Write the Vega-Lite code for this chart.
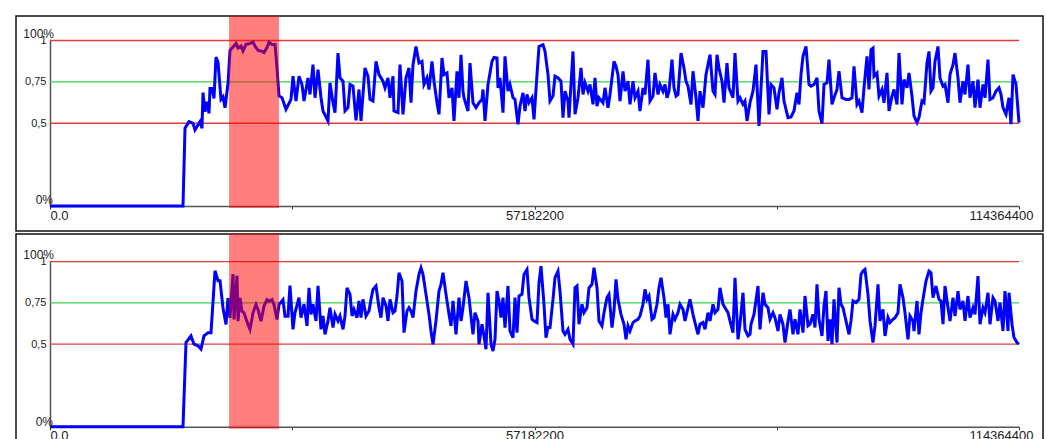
{
"$schema":"https://vega.github.io/schema/vega-lite/v6.json",
"padding":{"left":15,"top":15,"right":5,"bottom":0},
"spacing":0,
"background":"white",
"config":{"view":{"stroke":"#111","strokeWidth":1.5},"font":"Liberation Sans"},
"datasets":{
"a":[{"x":0,"v":0},{"x":15697000,"v":0},{"x":15933000,"v":0.47},{"x":16405000,"v":0.51},{"x":16877000,"v":0.5},{"x":17113000,"v":0.46},{"x":17467000,"v":0.49},{"x":17703000,"v":0.51},{"x":17939000,"v":0.47},{"x":18057000,"v":0.685},{"x":18293000,"v":0.57},{"x":18529000,"v":0.63},{"x":18765000,"v":0.56},{"x":18884000,"v":0.71},{"x":19120000,"v":0.71},{"x":19356000,"v":0.65},{"x":19592000,"v":0.9},{"x":19828000,"v":0.87},{"x":20182000,"v":0.645},{"x":20418000,"v":0.66},{"x":20654000,"v":0.594},{"x":21008000,"v":0.74},{"x":21244000,"v":0.94},{"x":21598000,"v":0.96},{"x":21952000,"v":0.983},{"x":22188000,"v":0.955},{"x":22542000,"v":0.967},{"x":22778000,"v":0.937},{"x":23132000,"v":0.977},{"x":23486000,"v":0.98},{"x":23958000,"v":0.99},{"x":24195000,"v":0.967},{"x":24549000,"v":0.94},{"x":24903000,"v":0.937},{"x":25257000,"v":0.927},{"x":25611000,"v":0.957},{"x":25847000,"v":0.99},{"x":26201000,"v":0.976},{"x":26555000,"v":0.976},{"x":26791000,"v":0.835},{"x":27027000,"v":0.665},{"x":27381000,"v":0.654},{"x":27853000,"v":0.584},{"x":28443000,"v":0.644},{"x":28679000,"v":0.784},{"x":29033000,"v":0.634},{"x":29387000,"v":0.784},{"x":29742000,"v":0.734},{"x":29978000,"v":0.634},{"x":30450000,"v":0.774},{"x":30686000,"v":0.674},{"x":31040000,"v":0.854},{"x":31276000,"v":0.654},{"x":31630000,"v":0.824},{"x":31984000,"v":0.654},{"x":32220000,"v":0.574},{"x":32810000,"v":0.514},{"x":33046000,"v":0.744},{"x":33400000,"v":0.624},{"x":33636000,"v":0.564},{"x":33990000,"v":0.924},{"x":34226000,"v":0.774},{"x":34580000,"v":0.754},{"x":34816000,"v":0.574},{"x":35171000,"v":0.594},{"x":35407000,"v":0.734},{"x":35761000,"v":0.724},{"x":36115000,"v":0.518},{"x":36469000,"v":0.704},{"x":36705000,"v":0.514},{"x":37177000,"v":0.834},{"x":37531000,"v":0.784},{"x":37767000,"v":0.644},{"x":38121000,"v":0.634},{"x":38475000,"v":0.874},{"x":38829000,"v":0.794},{"x":39301000,"v":0.754},{"x":39537000,"v":0.714},{"x":39891000,"v":0.774},{"x":40127000,"v":0.654},{"x":40482000,"v":0.784},{"x":40600000,"v":0.574},{"x":41072000,"v":0.564},{"x":41308000,"v":0.854},{"x":41662000,"v":0.554},{"x":42016000,"v":0.774},{"x":42370000,"v":0.834},{"x":42606000,"v":0.624},{"x":42842000,"v":0.854},{"x":43196000,"v":0.964},{"x":43550000,"v":0.864},{"x":43904000,"v":0.874},{"x":44140000,"v":0.734},{"x":44494000,"v":0.774},{"x":44730000,"v":0.704},{"x":45084000,"v":0.874},{"x":45320000,"v":0.754},{"x":45675000,"v":0.624},{"x":45911000,"v":0.554},{"x":46265000,"v":0.894},{"x":46501000,"v":0.794},{"x":46855000,"v":0.804},{"x":47091000,"v":0.654},{"x":47445000,"v":0.714},{"x":47681000,"v":0.514},{"x":48035000,"v":0.814},{"x":48271000,"v":0.654},{"x":48507000,"v":0.914},{"x":48743000,"v":0.694},{"x":48861000,"v":0.654},{"x":49333000,"v":0.574},{"x":49569000,"v":0.864},{"x":49923000,"v":0.624},{"x":50277000,"v":0.594},{"x":50631000,"v":0.624},{"x":50986000,"v":0.644},{"x":51104000,"v":0.704},{"x":51340000,"v":0.514},{"x":51694000,"v":0.734},{"x":52166000,"v":0.874},{"x":52402000,"v":0.898},{"x":52756000,"v":0.894},{"x":52874000,"v":0.714},{"x":53110000,"v":0.774},{"x":53464000,"v":0.564},{"x":53700000,"v":0.904},{"x":54054000,"v":0.694},{"x":54290000,"v":0.734},{"x":54644000,"v":0.654},{"x":54880000,"v":0.644},{"x":55234000,"v":0.494},{"x":55470000,"v":0.604},{"x":55824000,"v":0.684},{"x":56060000,"v":0.574},{"x":56296000,"v":0.674},{"x":56533000,"v":0.624},{"x":56887000,"v":0.654},{"x":57123000,"v":0.524},{"x":57477000,"v":0.794},{"x":57713000,"v":0.964},{"x":58185000,"v":0.974},{"x":58421000,"v":0.934},{"x":58775000,"v":0.794},{"x":59011000,"v":0.634},{"x":59365000,"v":0.664},{"x":59601000,"v":0.784},{"x":59955000,"v":0.774},{"x":60309000,"v":0.754},{"x":60545000,"v":0.534},{"x":60781000,"v":0.694},{"x":61135000,"v":0.634},{"x":61253000,"v":0.534},{"x":61726000,"v":0.934},{"x":61962000,"v":0.554},{"x":62316000,"v":0.654},{"x":62670000,"v":0.834},{"x":62906000,"v":0.674},{"x":63142000,"v":0.744},{"x":63496000,"v":0.694},{"x":63732000,"v":0.734},{"x":64086000,"v":0.614},{"x":64322000,"v":0.774},{"x":64558000,"v":0.604},{"x":64794000,"v":0.654},{"x":65266000,"v":0.624},{"x":65502000,"v":0.714},{"x":65856000,"v":0.594},{"x":66092000,"v":0.674},{"x":66564000,"v":0.874},{"x":66800000,"v":0.844},{"x":67036000,"v":0.794},{"x":67273000,"v":0.634},{"x":67627000,"v":0.814},{"x":67863000,"v":0.694},{"x":68217000,"v":0.754},{"x":68453000,"v":0.614},{"x":68807000,"v":0.754},{"x":69043000,"v":0.654},{"x":69397000,"v":0.694},{"x":69633000,"v":0.574},{"x":69987000,"v":0.714},{"x":70223000,"v":0.674},{"x":70577000,"v":0.884},{"x":70813000,"v":0.634},{"x":71167000,"v":0.664},{"x":71403000,"v":0.804},{"x":71757000,"v":0.674},{"x":71993000,"v":0.734},{"x":72347000,"v":0.694},{"x":72584000,"v":0.734},{"x":72820000,"v":0.654},{"x":73056000,"v":0.694},{"x":73410000,"v":0.884},{"x":73646000,"v":0.714},{"x":73882000,"v":0.664},{"x":74118000,"v":0.674},{"x":74472000,"v":0.924},{"x":74826000,"v":0.834},{"x":75062000,"v":0.754},{"x":75298000,"v":0.724},{"x":75652000,"v":0.614},{"x":75888000,"v":0.814},{"x":76242000,"v":0.654},{"x":76478000,"v":0.514},{"x":76714000,"v":0.694},{"x":77068000,"v":0.594},{"x":77422000,"v":0.794},{"x":77658000,"v":0.854},{"x":77895000,"v":0.914},{"x":78249000,"v":0.694},{"x":78485000,"v":0.674},{"x":78721000,"v":0.914},{"x":78957000,"v":0.834},{"x":79311000,"v":0.754},{"x":79547000,"v":0.624},{"x":79901000,"v":0.864},{"x":80137000,"v":0.714},{"x":80609000,"v":0.654},{"x":80845000,"v":0.924},{"x":81199000,"v":0.634},{"x":81435000,"v":0.654},{"x":81789000,"v":0.614},{"x":82025000,"v":0.634},{"x":82261000,"v":0.514},{"x":82615000,"v":0.624},{"x":82969000,"v":0.694},{"x":83324000,"v":0.854},{"x":83678000,"v":0.484},{"x":84150000,"v":0.934},{"x":84504000,"v":0.934},{"x":84858000,"v":0.554},{"x":85094000,"v":0.734},{"x":85448000,"v":0.714},{"x":85802000,"v":0.584},{"x":86038000,"v":0.684},{"x":86392000,"v":0.774},{"x":86628000,"v":0.634},{"x":87100000,"v":0.534},{"x":87454000,"v":0.538},{"x":87808000,"v":0.574},{"x":88162000,"v":0.684},{"x":88398000,"v":0.614},{"x":88635000,"v":0.794},{"x":88871000,"v":0.904},{"x":89225000,"v":0.964},{"x":89579000,"v":0.734},{"x":89815000,"v":0.724},{"x":90169000,"v":0.734},{"x":90523000,"v":0.774},{"x":90759000,"v":0.574},{"x":91113000,"v":0.498},{"x":91349000,"v":0.734},{"x":91703000,"v":0.744},{"x":91939000,"v":0.884},{"x":92293000,"v":0.614},{"x":92529000,"v":0.654},{"x":92883000,"v":0.704},{"x":93119000,"v":0.814},{"x":93473000,"v":0.654},{"x":93946000,"v":0.644},{"x":94300000,"v":0.644},{"x":94654000,"v":0.654},{"x":94890000,"v":0.844},{"x":95244000,"v":0.614},{"x":95480000,"v":0.634},{"x":95834000,"v":0.564},{"x":96070000,"v":0.714},{"x":96424000,"v":0.904},{"x":96660000,"v":0.704},{"x":96896000,"v":0.944},{"x":97132000,"v":0.954},{"x":97250000,"v":0.784},{"x":97604000,"v":0.804},{"x":97840000,"v":0.664},{"x":98194000,"v":0.704},{"x":98430000,"v":0.624},{"x":98784000,"v":0.804},{"x":99020000,"v":0.574},{"x":99375000,"v":0.664},{"x":99611000,"v":0.704},{"x":99965000,"v":0.614},{"x":100201000,"v":0.924},{"x":100555000,"v":0.614},{"x":100791000,"v":0.764},{"x":101145000,"v":0.714},{"x":101381000,"v":0.804},{"x":101735000,"v":0.664},{"x":101971000,"v":0.544},{"x":102325000,"v":0.504},{"x":102561000,"v":0.534},{"x":102915000,"v":0.634},{"x":103151000,"v":0.624},{"x":103505000,"v":0.864},{"x":103741000,"v":0.934},{"x":103977000,"v":0.694},{"x":104213000,"v":0.714},{"x":104449000,"v":0.874},{"x":104804000,"v":0.964},{"x":105040000,"v":0.774},{"x":105394000,"v":0.724},{"x":105630000,"v":0.734},{"x":105984000,"v":0.624},{"x":106220000,"v":0.794},{"x":106574000,"v":0.854},{"x":106810000,"v":0.924},{"x":107164000,"v":0.774},{"x":107400000,"v":0.624},{"x":107754000,"v":0.754},{"x":107990000,"v":0.674},{"x":108344000,"v":0.854},{"x":108580000,"v":0.654},{"x":108934000,"v":0.754},{"x":109170000,"v":0.594},{"x":109524000,"v":0.764},{"x":109760000,"v":0.594},{"x":110115000,"v":0.734},{"x":110351000,"v":0.654},{"x":110705000,"v":0.884},{"x":110941000,"v":0.644},{"x":111295000,"v":0.654},{"x":111649000,"v":0.694},{"x":112003000,"v":0.714},{"x":112239000,"v":0.674},{"x":112475000,"v":0.594},{"x":112829000,"v":0.554},{"x":113183000,"v":0.654},{"x":113419000,"v":0.494},{"x":113655000,"v":0.794},{"x":114009000,"v":0.734},{"x":114364400,"v":0.504}],
"b":[{"x":0,"v":0},{"x":15697000,"v":0},{"x":16051000,"v":0.51},{"x":16641000,"v":0.55},{"x":16995000,"v":0.5},{"x":17467000,"v":0.49},{"x":17821000,"v":0.47},{"x":18175000,"v":0.55},{"x":18647000,"v":0.57},{"x":19002000,"v":0.57},{"x":19474000,"v":0.945},{"x":19828000,"v":0.885},{"x":20064000,"v":0.885},{"x":20418000,"v":0.72},{"x":20772000,"v":0.62},{"x":21008000,"v":0.78},{"x":21244000,"v":0.66},{"x":21598000,"v":0.925},{"x":21716000,"v":0.65},{"x":22070000,"v":0.915},{"x":22188000,"v":0.64},{"x":22424000,"v":0.78},{"x":22660000,"v":0.7},{"x":22896000,"v":0.69},{"x":23368000,"v":0.62},{"x":23604000,"v":0.59},{"x":23958000,"v":0.69},{"x":24313000,"v":0.74},{"x":24549000,"v":0.71},{"x":24903000,"v":0.64},{"x":25257000,"v":0.73},{"x":25611000,"v":0.77},{"x":25847000,"v":0.76},{"x":26201000,"v":0.77},{"x":26437000,"v":0.74},{"x":26791000,"v":0.65},{"x":27027000,"v":0.74},{"x":27499000,"v":0.77},{"x":27735000,"v":0.67},{"x":28089000,"v":0.67},{"x":28325000,"v":0.855},{"x":28679000,"v":0.59},{"x":28915000,"v":0.691},{"x":29387000,"v":0.782},{"x":29624000,"v":0.661},{"x":29978000,"v":0.742},{"x":30332000,"v":0.611},{"x":30568000,"v":0.842},{"x":30804000,"v":0.681},{"x":31040000,"v":0.742},{"x":31394000,"v":0.641},{"x":31630000,"v":0.853},{"x":31984000,"v":0.59},{"x":32220000,"v":0.671},{"x":32456000,"v":0.56},{"x":32810000,"v":0.641},{"x":33046000,"v":0.721},{"x":33400000,"v":0.601},{"x":33636000,"v":0.681},{"x":33990000,"v":0.641},{"x":34226000,"v":0.671},{"x":34580000,"v":0.59},{"x":34816000,"v":0.671},{"x":35053000,"v":0.842},{"x":35407000,"v":0.802},{"x":35643000,"v":0.671},{"x":35879000,"v":0.711},{"x":36233000,"v":0.661},{"x":36469000,"v":0.762},{"x":36705000,"v":0.661},{"x":36941000,"v":0.772},{"x":37295000,"v":0.671},{"x":37649000,"v":0.701},{"x":37885000,"v":0.772},{"x":38121000,"v":0.832},{"x":38475000,"v":0.853},{"x":38829000,"v":0.721},{"x":39065000,"v":0.661},{"x":39301000,"v":0.782},{"x":39655000,"v":0.732},{"x":39891000,"v":0.641},{"x":40127000,"v":0.772},{"x":40482000,"v":0.691},{"x":40718000,"v":0.701},{"x":40954000,"v":0.792},{"x":41190000,"v":0.933},{"x":41544000,"v":0.883},{"x":41780000,"v":0.57},{"x":42134000,"v":0.701},{"x":42370000,"v":0.721},{"x":42606000,"v":0.701},{"x":42842000,"v":0.661},{"x":43196000,"v":0.822},{"x":43550000,"v":0.923},{"x":43786000,"v":0.963},{"x":44022000,"v":0.923},{"x":44376000,"v":0.802},{"x":44730000,"v":0.681},{"x":44966000,"v":0.58},{"x":45202000,"v":0.5},{"x":45556000,"v":0.641},{"x":45911000,"v":0.822},{"x":46147000,"v":0.863},{"x":46383000,"v":0.933},{"x":46737000,"v":0.802},{"x":47091000,"v":0.681},{"x":47327000,"v":0.611},{"x":47563000,"v":0.762},{"x":47917000,"v":0.56},{"x":48271000,"v":0.782},{"x":48507000,"v":0.641},{"x":48743000,"v":0.721},{"x":49097000,"v":0.883},{"x":49451000,"v":0.782},{"x":49923000,"v":0.56},{"x":50159000,"v":0.691},{"x":50513000,"v":0.641},{"x":50631000,"v":0.5},{"x":50986000,"v":0.621},{"x":51222000,"v":0.55},{"x":51458000,"v":0.469},{"x":51694000,"v":0.812},{"x":52048000,"v":0.5},{"x":52284000,"v":0.459},{"x":52520000,"v":0.53},{"x":52756000,"v":0.822},{"x":52992000,"v":0.762},{"x":53228000,"v":0.661},{"x":53464000,"v":0.782},{"x":53700000,"v":0.601},{"x":54054000,"v":0.853},{"x":54290000,"v":0.58},{"x":54644000,"v":0.54},{"x":54880000,"v":0.782},{"x":55116000,"v":0.57},{"x":55352000,"v":0.792},{"x":55706000,"v":0.802},{"x":55942000,"v":0.923},{"x":56296000,"v":0.953},{"x":56533000,"v":0.782},{"x":56887000,"v":0.651},{"x":57123000,"v":0.641},{"x":57477000,"v":0.631},{"x":57713000,"v":0.873},{"x":57949000,"v":0.973},{"x":58303000,"v":0.742},{"x":58539000,"v":0.54},{"x":58775000,"v":0.601},{"x":59011000,"v":0.601},{"x":59365000,"v":0.772},{"x":59601000,"v":0.903},{"x":59955000,"v":0.943},{"x":60191000,"v":0.822},{"x":60545000,"v":0.58},{"x":60781000,"v":0.56},{"x":61135000,"v":0.59},{"x":61371000,"v":0.53},{"x":61726000,"v":0.5},{"x":61962000,"v":0.842},{"x":62198000,"v":0.853},{"x":62434000,"v":0.621},{"x":62788000,"v":0.742},{"x":63024000,"v":0.691},{"x":63378000,"v":0.721},{"x":63614000,"v":0.842},{"x":63968000,"v":0.863},{"x":64204000,"v":0.963},{"x":64558000,"v":0.842},{"x":64794000,"v":0.641},{"x":65148000,"v":0.611},{"x":65384000,"v":0.691},{"x":65738000,"v":0.782},{"x":65974000,"v":0.802},{"x":66328000,"v":0.601},{"x":66564000,"v":0.701},{"x":66800000,"v":0.893},{"x":67036000,"v":0.772},{"x":67391000,"v":0.681},{"x":67745000,"v":0.621},{"x":67981000,"v":0.53},{"x":68217000,"v":0.611},{"x":68453000,"v":0.58},{"x":68807000,"v":0.631},{"x":69043000,"v":0.641},{"x":69397000,"v":0.651},{"x":69633000,"v":0.671},{"x":69987000,"v":0.742},{"x":70223000,"v":0.832},{"x":70459000,"v":0.772},{"x":70695000,"v":0.792},{"x":71049000,"v":0.651},{"x":71285000,"v":0.661},{"x":71639000,"v":0.742},{"x":71875000,"v":0.842},{"x":72111000,"v":0.903},{"x":72466000,"v":0.782},{"x":72702000,"v":0.661},{"x":72938000,"v":0.742},{"x":73174000,"v":0.56},{"x":73528000,"v":0.681},{"x":73764000,"v":0.651},{"x":74118000,"v":0.691},{"x":74354000,"v":0.742},{"x":74708000,"v":0.711},{"x":74944000,"v":0.641},{"x":75298000,"v":0.721},{"x":75534000,"v":0.772},{"x":75888000,"v":0.681},{"x":76124000,"v":0.631},{"x":76478000,"v":0.56},{"x":76714000,"v":0.621},{"x":77068000,"v":0.631},{"x":77304000,"v":0.59},{"x":77658000,"v":0.691},{"x":77895000,"v":0.641},{"x":78249000,"v":0.742},{"x":78485000,"v":0.691},{"x":78839000,"v":0.711},{"x":79075000,"v":0.842},{"x":79429000,"v":0.742},{"x":79665000,"v":0.721},{"x":80019000,"v":0.691},{"x":80255000,"v":0.641},{"x":80609000,"v":0.57},{"x":80845000,"v":0.903},{"x":81199000,"v":0.53},{"x":81435000,"v":0.621},{"x":81789000,"v":0.812},{"x":82025000,"v":0.59},{"x":82379000,"v":0.55},{"x":82615000,"v":0.56},{"x":82733000,"v":0.621},{"x":83087000,"v":0.681},{"x":83560000,"v":0.853},{"x":83796000,"v":0.59},{"x":84150000,"v":0.812},{"x":84386000,"v":0.742},{"x":84740000,"v":0.721},{"x":84976000,"v":0.651},{"x":85330000,"v":0.691},{"x":85566000,"v":0.661},{"x":85920000,"v":0.58},{"x":86156000,"v":0.681},{"x":86510000,"v":0.621},{"x":86746000,"v":0.51},{"x":87100000,"v":0.641},{"x":87336000,"v":0.711},{"x":87690000,"v":0.56},{"x":87926000,"v":0.651},{"x":88280000,"v":0.56},{"x":88517000,"v":0.711},{"x":88871000,"v":0.57},{"x":89107000,"v":0.792},{"x":89461000,"v":0.611},{"x":89697000,"v":0.621},{"x":90051000,"v":0.681},{"x":90287000,"v":0.601},{"x":90523000,"v":0.863},{"x":90759000,"v":0.651},{"x":91113000,"v":0.55},{"x":91349000,"v":0.732},{"x":91585000,"v":0.822},{"x":91821000,"v":0.52},{"x":92057000,"v":0.651},{"x":92293000,"v":0.5},{"x":92529000,"v":0.772},{"x":92883000,"v":0.51},{"x":93119000,"v":0.842},{"x":93355000,"v":0.742},{"x":93591000,"v":0.721},{"x":93946000,"v":0.641},{"x":94300000,"v":0.56},{"x":94536000,"v":0.641},{"x":94772000,"v":0.762},{"x":95126000,"v":0.752},{"x":95480000,"v":0.772},{"x":95716000,"v":0.923},{"x":95952000,"v":0.943},{"x":96188000,"v":0.953},{"x":96542000,"v":0.802},{"x":96778000,"v":0.641},{"x":97132000,"v":0.51},{"x":97368000,"v":0.611},{"x":97722000,"v":0.863},{"x":97958000,"v":0.641},{"x":98312000,"v":0.711},{"x":98548000,"v":0.55},{"x":98902000,"v":0.661},{"x":99138000,"v":0.631},{"x":99493000,"v":0.651},{"x":99729000,"v":0.661},{"x":100083000,"v":0.691},{"x":100319000,"v":0.863},{"x":100673000,"v":0.782},{"x":100909000,"v":0.691},{"x":101263000,"v":0.53},{"x":101499000,"v":0.671},{"x":101853000,"v":0.641},{"x":101971000,"v":0.58},{"x":102325000,"v":0.762},{"x":102561000,"v":0.56},{"x":102797000,"v":0.691},{"x":103033000,"v":0.772},{"x":103387000,"v":0.883},{"x":103741000,"v":0.943},{"x":103977000,"v":0.933},{"x":104213000,"v":0.782},{"x":104567000,"v":0.853},{"x":104922000,"v":0.772},{"x":105158000,"v":0.762},{"x":105394000,"v":0.621},{"x":105630000,"v":0.853},{"x":105984000,"v":0.721},{"x":106220000,"v":0.641},{"x":106574000,"v":0.782},{"x":106810000,"v":0.671},{"x":107164000,"v":0.822},{"x":107400000,"v":0.711},{"x":107754000,"v":0.762},{"x":107990000,"v":0.641},{"x":108344000,"v":0.792},{"x":108580000,"v":0.661},{"x":108934000,"v":0.721},{"x":109170000,"v":0.681},{"x":109524000,"v":0.913},{"x":109760000,"v":0.621},{"x":110115000,"v":0.721},{"x":110351000,"v":0.691},{"x":110705000,"v":0.812},{"x":110941000,"v":0.621},{"x":111295000,"v":0.782},{"x":111531000,"v":0.762},{"x":111885000,"v":0.641},{"x":112121000,"v":0.752},{"x":112475000,"v":0.58},{"x":112711000,"v":0.822},{"x":113065000,"v":0.58},{"x":113183000,"v":0.812},{"x":113537000,"v":0.621},{"x":113773000,"v":0.54},{"x":114127000,"v":0.51},{"x":114364400,"v":0.5}]
},
"vconcat":[
{
"width":1027,"height":215,
"data":{"name":"a"},
"layer":[
{"data":{"values":[{}]},"mark":{"type":"rule","color":"#e03c3c","strokeWidth":1.3},"encoding":{"x":{"datum":0},"x2":{"datum":114364400},"y":{"datum":1}}},
{"data":{"values":[{}]},"mark":{"type":"rule","color":"#e03c3c","strokeWidth":1.3},"encoding":{"x":{"datum":0},"x2":{"datum":114364400},"y":{"datum":0.5}}},
{"data":{"values":[{}]},"mark":{"type":"rule","color":"#3dd14a","strokeWidth":1.3},"encoding":{"x":{"datum":0},"x2":{"datum":114364400},"y":{"datum":0.75}}},
{"mark":{"type":"line","color":"#0000ff","strokeWidth":3},
 "encoding":{
  "x":{"field":"x","type":"quantitative","scale":{"domain":[0,114364400],"range":[34,1003],"nice":false,"zero":false},
   "axis":{"orient":"bottom","offset":-25,"values":[0,28591100,57182200,85773300,114364400],"labelExpr":"datum.value == 0 ? '0.0' : (datum.value == 57182200 || datum.value == 114364400) ? format(datum.value, 'd') : ''","labelFlush":true,"labelOffset":{"condition":{"test":"datum.value > 100000000","value":14},"value":0},"labelOverlap":false,"labelFontSize":13,"labelColor":"#222","labelPadding":0,"tickSize":3,"tickColor":"#333","domainColor":"#555","domainWidth":1.5,"grid":false,"title":null}},
  "y":{"field":"v","type":"quantitative","scale":{"domain":[0,1],"range":[190,24.5],"nice":false,"zero":false},
   "axis":{"orient":"left","offset":-34,"values":[0.5,0.75,1],"labelExpr":"replace(toString(datum.value), '.', ',')","ticks":false,"labelPadding":4,"labelFontSize":11,"labelColor":"#222","domainColor":"#555","domainWidth":1.5,"grid":false,"title":null}}
 }},
{"data":{"values":[{}]},"mark":{"type":"rect","color":"#ff0000","opacity":0.5},"encoding":{"x":{"datum":21130000},"x2":{"datum":27027000},"y":{"datum":-0.012},"y2":{"datum":1.148}}},
{"data":{"values":[{}]},"mark":{"type":"text","text":"100%","align":"right","baseline":"middle","dx":4,"dy":-7,"fontSize":12,"color":"#222"},"encoding":{"x":{"datum":0},"y":{"datum":1}}},
{"data":{"values":[{}]},"mark":{"type":"text","text":"0%","align":"right","baseline":"middle","dx":3,"dy":-6,"fontSize":12,"color":"#222"},"encoding":{"x":{"datum":0},"y":{"datum":0}}}
]
},
{
"width":1027,"height":215,
"data":{"name":"b"},
"layer":[
{"data":{"values":[{}]},"mark":{"type":"rule","color":"#e03c3c","strokeWidth":1.3},"encoding":{"x":{"datum":0},"x2":{"datum":114364400},"y":{"datum":1}}},
{"data":{"values":[{}]},"mark":{"type":"rule","color":"#e03c3c","strokeWidth":1.3},"encoding":{"x":{"datum":0},"x2":{"datum":114364400},"y":{"datum":0.5}}},
{"data":{"values":[{}]},"mark":{"type":"rule","color":"#3dd14a","strokeWidth":1.3},"encoding":{"x":{"datum":0},"x2":{"datum":114364400},"y":{"datum":0.75}}},
{"mark":{"type":"line","color":"#0000ff","strokeWidth":3},
 "encoding":{
  "x":{"field":"x","type":"quantitative","scale":{"domain":[0,114364400],"range":[34,1003],"nice":false,"zero":false},
   "axis":{"orient":"bottom","offset":-22.3,"values":[0,28591100,57182200,85773300,114364400],"labelExpr":"datum.value == 0 ? '0.0' : (datum.value == 57182200 || datum.value == 114364400) ? format(datum.value, 'd') : ''","labelFlush":true,"labelOffset":{"condition":{"test":"datum.value > 100000000","value":14},"value":0},"labelOverlap":false,"labelFontSize":13,"labelColor":"#222","labelPadding":0,"tickSize":3,"tickColor":"#333","domainColor":"#555","domainWidth":1.5,"grid":false,"title":null}},
  "y":{"field":"v","type":"quantitative","scale":{"domain":[0,1],"range":[192.7,27.7],"nice":false,"zero":false},
   "axis":{"orient":"left","offset":-34,"values":[0.5,0.75,1],"labelExpr":"replace(toString(datum.value), '.', ',')","ticks":false,"labelPadding":4,"labelFontSize":11,"labelColor":"#222","domainColor":"#555","domainWidth":1.5,"grid":false,"title":null}}
 }},
{"data":{"values":[{}]},"mark":{"type":"rect","color":"#ff0000","opacity":0.5},"encoding":{"x":{"datum":21130000},"x2":{"datum":27027000},"y":{"datum":-0.012},"y2":{"datum":1.17}}},
{"data":{"values":[{}]},"mark":{"type":"text","text":"100%","align":"right","baseline":"middle","dx":4,"dy":-7,"fontSize":12,"color":"#222"},"encoding":{"x":{"datum":0},"y":{"datum":1}}},
{"data":{"values":[{}]},"mark":{"type":"text","text":"0%","align":"right","baseline":"middle","dx":3,"dy":-5,"fontSize":12,"color":"#222"},"encoding":{"x":{"datum":0},"y":{"datum":0}}}
]
}
]
}
